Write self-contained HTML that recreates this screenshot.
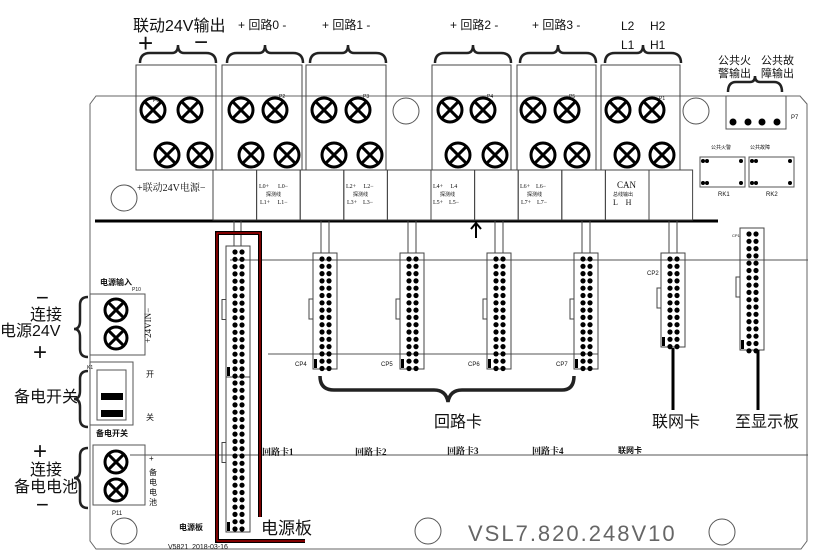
<!DOCTYPE html>
<html><head><meta charset="utf-8"><style>
body{margin:0;background:#fff}
svg{display:block}
text{font-family:"Liberation Sans","Noto Sans CJK SC",sans-serif;fill:#111}
.s{font-family:"Liberation Serif","Noto Serif CJK SC",serif}
</style></head><body>
<svg id="g" width="815" height="557" viewBox="0 0 815 557" xmlns="http://www.w3.org/2000/svg">
<g fill="none" stroke="#333" stroke-width="1">
<path d="M90,104 L96,96 L800,96 L807,104 L807,541 L801,549 L96,549 L90,541 Z" stroke="#666"/>
<line x1="230" y1="260" x2="808" y2="260" stroke="#555"/>
<line x1="268" y1="354" x2="598" y2="354" stroke="#555"/>
<line x1="130" y1="455" x2="808" y2="455" stroke="#555"/>
<line x1="95" y1="221" x2="718" y2="221" stroke="#000" stroke-width="3"/>
</g>
<g id="blocks" fill="none" stroke="#444"></g>
<g id="dots"></g>
<g fill="none" stroke="#222" stroke-width="2.5">
<path d="M140,63 q0,-10 10,-10 h22 q6,0 6,-8 q0,8 6,8 h22 q10,0 10,10"/>
<path d="M227,63 q0,-10 10,-10 h22 q6,0 6,-8 q0,8 6,8 h22 q10,0 10,10"/>
<path d="M310,63 q0,-10 10,-10 h22 q6,0 6,-8 q0,8 6,8 h22 q10,0 10,10"/>
<path d="M435,63 q0,-10 10,-10 h22 q6,0 6,-8 q0,8 6,8 h22 q10,0 10,10"/>
<path d="M520,63 q0,-10 10,-10 h22 q6,0 6,-8 q0,8 6,8 h22 q10,0 10,10"/>
<path d="M605,63 q0,-10 10,-10 h22 q6,0 6,-8 q0,8 6,8 h22 q10,0 10,10"/>
<path d="M728,92 q0,-10 8,-10 h14 q5,0 5,-6 q0,6 5,6 h14 q8,0 8,10"/>
<path d="M320,376 q0,14 14,14 h100 q12,0 14,12 q2,-12 14,-12 h100 q12,0 12,-14" stroke-width="3.5"/>
<path d="M88,297 q-8,0 -8,8 v16 q0,8 -6,8 q6,0 6,8 v12 q0,8 8,8"/>
<path d="M88,371 q-8,0 -8,8 v12 q0,8 -6,8 q6,0 6,8 v12 q0,8 8,8"/>
<path d="M88,448 q-8,0 -8,8 v14 q0,8 -6,8 q6,0 6,8 v14 q0,8 8,8"/>
</g>
<path d="M260,517 V233 H217 V541 H305" fill="none" stroke="#000" stroke-width="4"/>
<path d="M260,517 V233 H217 V541 H305" fill="none" stroke="#c00" stroke-width="1.2"/>
<line x1="673" y1="348" x2="673" y2="410" stroke="#000" stroke-width="3"/>
<line x1="758" y1="350" x2="758" y2="410" stroke="#000" stroke-width="3"/>
<path d="M476,238 V224 M471,229 L476,223 L481,229" stroke="#000" stroke-width="2" fill="none"/>
<g fill="none" stroke="#555">
<circle cx="406" cy="111" r="13"/><circle cx="696" cy="111" r="13"/>
<circle cx="124" cy="198" r="13"/>
<circle cx="124" cy="531" r="13"/><circle cx="428" cy="531" r="13"/><circle cx="722" cy="532" r="13"/>
<rect x="726" y="96" width="60" height="33"/>
<rect x="700" y="157" width="45" height="30"/><rect x="749" y="157" width="45" height="30"/>
<rect x="90" y="294" width="55" height="61"/>
<rect x="90" y="362" width="43" height="63"/>
<rect x="97" y="370" width="29" height="50"/>
<rect x="93" y="445" width="52" height="60"/>
</g>
<rect x="101" y="393" width="22" height="7" fill="#000"/>
<rect x="101" y="410" width="22" height="7" fill="#000"/>
<g fill="#000"><circle cx="733" cy="122" r="3.5"/><circle cx="748" cy="122" r="3.5"/><circle cx="762" cy="122" r="3.5"/><circle cx="777" cy="122" r="3.5"/>
<circle cx="703" cy="161" r="2"/><circle cx="707" cy="161" r="2"/><circle cx="741" cy="161" r="2"/><circle cx="703" cy="183" r="2"/><circle cx="707" cy="183" r="2"/><circle cx="741" cy="183" r="2"/>
<circle cx="752" cy="161" r="2"/><circle cx="756" cy="161" r="2"/><circle cx="790" cy="161" r="2"/><circle cx="752" cy="183" r="2"/><circle cx="756" cy="183" r="2"/><circle cx="790" cy="183" r="2"/></g>
<text x="133" y="31" font-size="16">联动24V输出</text>
<text x="138" y="52" font-size="26">+</text><text x="194" y="50" font-size="24">−</text>
<text x="238" y="29" font-size="12">+ 回路0 -</text>
<text x="322" y="29" font-size="12">+ 回路1 -</text>
<text x="450" y="29" font-size="12">+ 回路2 -</text>
<text x="532" y="29" font-size="12">+ 回路3 -</text>
<text x="621" y="30" font-size="12">L2</text><text x="650" y="30" font-size="12">H2</text>
<text x="621" y="49" font-size="12">L1</text><text x="650" y="49" font-size="12">H1</text>
<text x="718" y="64" font-size="11">公共火</text><text x="718" y="77" font-size="11">警输出</text>
<text x="761" y="64" font-size="11">公共故</text><text x="761" y="77" font-size="11">障输出</text>
<text x="791" y="119" font-size="6">P7</text>
<text x="711" y="149" font-size="5">公共火警</text><text x="750" y="149" font-size="5">公共故障</text>
<text x="718" y="196" font-size="6">RK1</text><text x="766" y="196" font-size="6">RK2</text>
<text x="137" y="191" font-size="10" class="s">+联动24V电源−</text>
<text x="259" y="188" font-size="6" class="s">L0+ &#160;&#160;&#160;&#160;&#160;L0−</text><text x="266" y="196" font-size="5">探测线</text><text x="260" y="204" font-size="6" class="s">L1+ &#160;&#160;&#160;&#160;L1−</text>
<text x="346" y="188" font-size="6" class="s">L2+ &#160;&#160;&#160;&#160;L2−</text><text x="353" y="196" font-size="5">探测线</text><text x="347" y="204" font-size="6" class="s">L3+ &#160;&#160;&#160;L3−</text>
<text x="433" y="188" font-size="6" class="s">L4+ &#160;&#160;&#160;&#160;L4</text><text x="440" y="196" font-size="5">探测线</text><text x="433" y="204" font-size="6" class="s">L5+ &#160;&#160;&#160;L5−</text>
<text x="520" y="188" font-size="6" class="s">L6+ &#160;&#160;&#160;L6−</text><text x="527" y="196" font-size="5">探测线</text><text x="521" y="204" font-size="6" class="s">L7+ &#160;&#160;&#160;L7−</text>
<text x="617" y="188" font-size="9" class="s">CAN</text><text x="613" y="196" font-size="5">总线输出</text><text x="613" y="205" font-size="8" class="s">L &#160;&#160;&#160;H</text>
<text x="153" y="102" font-size="5">P6</text><text x="279" y="98" font-size="5">P2</text><text x="363" y="98" font-size="5">P3</text>
<text x="487" y="98" font-size="5">P4</text><text x="569" y="98" font-size="5">P5</text><text x="659" y="100" font-size="5">P1</text>
<text x="295" y="366" font-size="6">CP4</text><text x="381" y="366" font-size="6">CP5</text><text x="468" y="366" font-size="6">CP6</text><text x="556" y="366" font-size="6">CP7</text>
<text x="647" y="275" font-size="6">CP2</text><text x="732" y="237" font-size="4">CP1</text>
<text x="434" y="427" font-size="16">回路卡</text>
<text x="652" y="427" font-size="16">联网卡</text>
<text x="735" y="427" font-size="16">至显示板</text>
<text x="262" y="455" font-size="9" class="s" font-weight="bold">回路卡1</text>
<text x="355" y="455" font-size="9" class="s" font-weight="bold">回路卡2</text>
<text x="447" y="454" font-size="9" class="s" font-weight="bold">回路卡3</text>
<text x="532" y="454" font-size="9" class="s" font-weight="bold">回路卡4</text>
<text x="618" y="453" font-size="8" font-weight="bold">联网卡</text>
<text x="468" y="541" font-size="22" style="fill:#666;letter-spacing:2px">VSL7.820.248V10</text>
<text x="179" y="530" font-size="8" font-weight="bold">电源板</text>
<text x="168" y="549" font-size="7">V5821 &#160;2018-03-16</text>
<text x="261" y="534" font-size="17">电源板</text>
<text x="100" y="285" font-size="8" font-weight="bold">电源输入</text>
<text x="132" y="291" font-size="5">P10</text>
<text x="87" y="369" font-size="5">K1</text>
<text x="146" y="377" font-size="8">开</text><text x="146" y="420" font-size="8">关</text>
<text x="96" y="436" font-size="8" font-weight="bold">备电开关</text>
<text x="112" y="515" font-size="6">P11</text>
<text x="0" y="0" font-size="9" class="s" transform="translate(151,343) rotate(-90)">+24VIN−</text>
<text x="149" y="461" font-size="8">+</text>
<text x="149" y="475" font-size="8">备</text><text x="149" y="485" font-size="8">电</text><text x="149" y="495" font-size="8">电</text><text x="149" y="505" font-size="8">池</text>
<text x="36" y="305" font-size="22">−</text>
<text x="30" y="320" font-size="16">连接</text>
<text x="0" y="336" font-size="16">电源24V</text>
<text x="33" y="360" font-size="24">+</text>
<text x="14" y="402" font-size="16">备电开关</text>
<text x="33" y="459" font-size="24">+</text>
<text x="30" y="475" font-size="16">连接</text>
<text x="14" y="492" font-size="16">备电电池</text>
<text x="36" y="512" font-size="22">−</text>
</svg>
<script>
var NS="http://www.w3.org/2000/svg",B=document.getElementById("blocks"),D=document.getElementById("dots");
function el(p,t,a){var e=document.createElementNS(NS,t);for(var k in a)e.setAttribute(k,a[k]);p.appendChild(e);return e;}
[[136,216],[222,302],[306,386],[432,511],[517,596],[601,680]].forEach(function(b){el(B,"rect",{x:b[0],y:65,width:b[1]-b[0],height:105});});
for(var i=0;i<11;i++)el(B,"rect",{x:213+i*43.6,y:170,width:43.6,height:50});
function screw(x,y,r){el(D,"circle",{cx:x,cy:y,r:r,fill:"none",stroke:"#000","stroke-width":3});
var d=r*0.7;el(D,"path",{d:"M"+(x-d)+","+(y-d)+"L"+(x+d)+","+(y+d)+"M"+(x+d)+","+(y-d)+"L"+(x-d)+","+(y+d),stroke:"#000","stroke-width":3});}
[[153,190,167,200],[241,275,251,287],[324,358,334,370],[450,483,458,495],[533,567,543,577],[618,652,627,662]].forEach(function(s){screw(s[0],110,12);screw(s[1],110,12);screw(s[2],155,12);screw(s[3],155,12);});
screw(116,310,11);screw(116,338,11);screw(116,462,11);screw(116,490,11);
function conn(x,y1,y2,n){el(B,"rect",{x:x,y:y1,width:24,height:y2-y1});
for(var i=0;i<n;i++){el(D,"circle",{cx:x+9,cy:y1+6+i*7.3,r:2.6,fill:"#000"});el(D,"circle",{cx:x+16,cy:y1+6+i*7.3,r:2.6,fill:"#000"});}
el(D,"rect",{x:x+1,y:y2-10,width:3,height:9,fill:"#000"});el(B,"rect",{x:x-4,y:(y1+y2)/2-12,width:4,height:20});}
[313,400,487,574].forEach(function(x){conn(x,253,369,16);el(B,"path",{d:"M"+(x+8)+",221V253M"+(x+16)+",221V253"});});
conn(661,253,347,13);el(B,"path",{d:"M669,221V253M677,221V253"});
conn(740,228,350,17);
conn(226,246,377,18);conn(226,377,532,21);
el(B,"path",{d:"M234,221V246M241,221V246"});
</script>
</body></html>
